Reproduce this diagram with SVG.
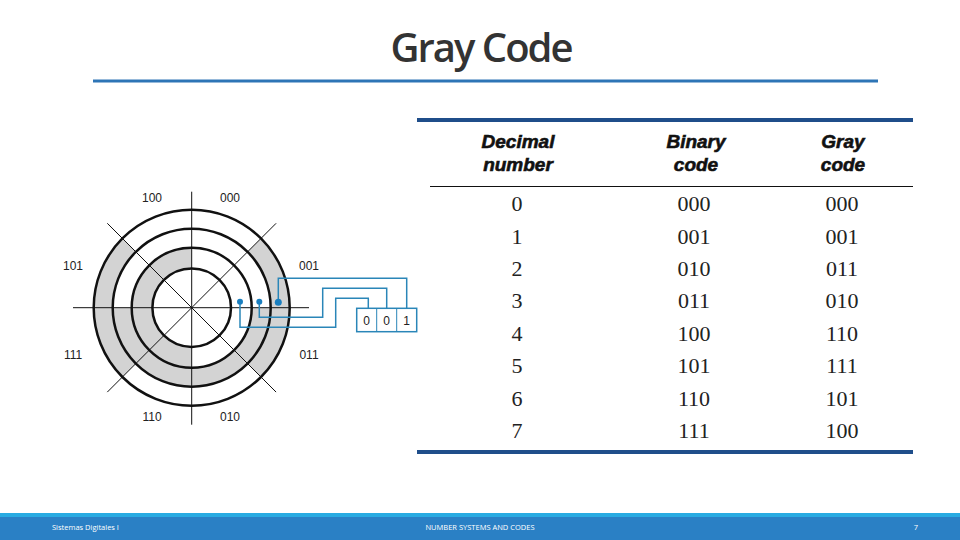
<svg xmlns="http://www.w3.org/2000/svg" width="960" height="540" viewBox="0 0 960 540">
<style>
.lbl{font-family:"Liberation Sans",Arial,sans-serif;font-size:12px;fill:#222;text-anchor:middle}
.ring{fill:none;stroke:#111;stroke-width:2.5}
.ax{stroke:#111;stroke-width:1}
.sh{fill:#d3d3d3}
.w{fill:none;stroke:#2a86b8;stroke-width:1.5}
.hd{font-family:"Liberation Sans",Arial,sans-serif;font-weight:900;font-style:italic;font-size:19px;fill:#111;text-anchor:middle;stroke:#111;stroke-width:0.6}
.num{font-family:"Liberation Serif","Times New Roman",serif;font-size:22px;fill:#222;text-anchor:middle}
.ft{font-family:"Open Sans","Liberation Sans",sans-serif;font-size:7.5px;fill:#fff}
</style>
<rect width="960" height="540" fill="#fff"/>
<text x="481" y="62" font-family="Open Sans,Liberation Sans,sans-serif" font-size="40" font-weight="600" fill="#333" text-anchor="middle" letter-spacing="-2">Gray Code</text>
<line x1="93" y1="81" x2="878" y2="81" stroke="#2e75b6" stroke-width="3"/>

<g id="disk" transform="translate(191.7,307.7)">
  <path class="sh" d="M69.3,-69.3 A98,98 0 0 1 69.3,69.3 L55.9,55.9 A79,79 0 0 0 55.9,-55.9 Z"/>
  <path class="sh" d="M-69.3,-69.3 A98,98 0 0 0 -69.3,69.3 L-55.9,55.9 A79,79 0 0 1 -55.9,-55.9 Z"/>
  <path class="sh" d="M79,0 A79,79 0 0 1 -79,0 L-60,0 A60,60 0 0 0 60,0 Z"/>
  <path class="sh" d="M0,-60 A60,60 0 0 0 0,60 L0,39.3 A39.3,39.3 0 0 1 0,-39.3 Z"/>
  <circle class="ring" r="98"/><circle class="ring" r="79"/><circle class="ring" r="60"/><circle class="ring" r="39.3"/>
  <line class="ax" x1="-118.7" y1="0" x2="117.3" y2="0"/>
  <line class="ax" x1="0" y1="-116" x2="0" y2="117"/>
  <line class="ax" x1="-84.4" y1="-84.4" x2="84.4" y2="84.4"/>
  <line class="ax" x1="-84.4" y1="84.4" x2="84.4" y2="-84.4"/>
</g>
<g id="labels">
<text class="lbl" x="152" y="202">100</text><text class="lbl" x="230" y="202">000</text>
<text class="lbl" x="73" y="270">101</text><text class="lbl" x="309" y="270">001</text>
<text class="lbl" x="73" y="359">111</text><text class="lbl" x="309" y="359">011</text>
<text class="lbl" x="152" y="421">110</text><text class="lbl" x="230" y="421">010</text>
</g>
<g id="connectors">
  <path class="w" d="M240,302 V327.3 H335.7 V298.3 H368.3 V308.3"/>
  <path class="w" stroke="#5aa3c8" d="M259.3,302 V317.3 H322.7 V288.3 H386.7 V308.3"/>
  <path class="w" stroke="#7fb6d4" d="M278.3,302 V278.3 H406.7 V308.3"/>
  <circle cx="240" cy="301.7" r="3" fill="#1a7fc0"/>
  <circle cx="259.3" cy="301.7" r="3" fill="#1a7fc0"/>
  <circle cx="278.3" cy="302.3" r="3.5" fill="#1a7fc0"/>
</g>
<g id="register">
  <rect x="356.7" y="308.3" width="60" height="23.4" fill="#fff" stroke="#2a86b8" stroke-width="1.5"/>
  <line x1="376.7" y1="308.3" x2="376.7" y2="331.7" stroke="#2a86b8"/>
  <line x1="396.7" y1="308.3" x2="396.7" y2="331.7" stroke="#2a86b8"/>
  <text class="lbl" x="366.7" y="324.5">0</text><text class="lbl" x="386.7" y="324.5">0</text><text class="lbl" x="406.7" y="324.5">1</text>
</g>
<g id="table">
  <line x1="417" y1="120" x2="913" y2="120" stroke="#1f4e8a" stroke-width="4"/>
  <line x1="430" y1="186.5" x2="913" y2="186.5" stroke="#111" stroke-width="1"/>
  <line x1="417" y1="452" x2="913" y2="452" stroke="#1f4e8a" stroke-width="4"/>
  <text class="hd" x="518" y="148">Decimal</text><text class="hd" x="518" y="171">number</text>
  <text class="hd" x="696" y="148">Binary</text><text class="hd" x="696" y="171">code</text>
  <text class="hd" x="843" y="148">Gray</text><text class="hd" x="843" y="171">code</text>
  <g class="num">
  <text x="517" y="211">0</text><text x="694" y="211">000</text><text x="842" y="211">000</text>
  <text x="517" y="243.5">1</text><text x="694" y="243.5">001</text><text x="842" y="243.5">001</text>
  <text x="517" y="276">2</text><text x="694" y="276">010</text><text x="842" y="276">011</text>
  <text x="517" y="308">3</text><text x="694" y="308">011</text><text x="842" y="308">010</text>
  <text x="517" y="340.5">4</text><text x="694" y="340.5">100</text><text x="842" y="340.5">110</text>
  <text x="517" y="373">5</text><text x="694" y="373">101</text><text x="842" y="373">111</text>
  <text x="517" y="405.5">6</text><text x="694" y="405.5">110</text><text x="842" y="405.5">101</text>
  <text x="517" y="438">7</text><text x="694" y="438">111</text><text x="842" y="438">100</text>
  </g>
</g>
<g id="footer">
  <rect x="0" y="513" width="960" height="5" fill="#29abe2"/>
  <rect x="0" y="517" width="960" height="23" fill="#2a80c5"/>
  <text class="ft" x="52" y="530">Sistemas Digitales I</text>
  <text class="ft" x="480" y="530" text-anchor="middle">NUMBER SYSTEMS AND CODES</text>
  <text class="ft" x="918" y="530" text-anchor="end">7</text>
</g>
</svg>
